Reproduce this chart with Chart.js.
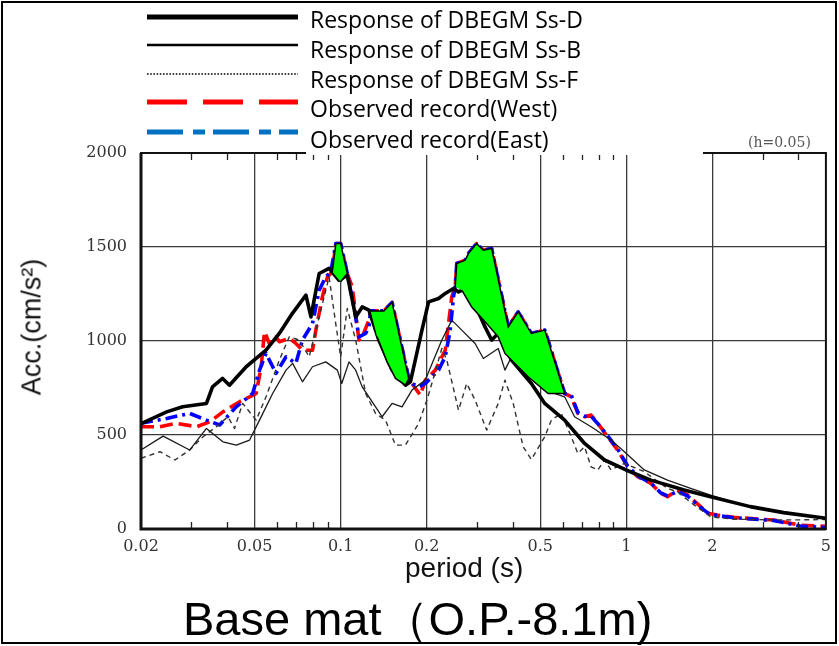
<!DOCTYPE html>
<html>
<head>
<meta charset="utf-8">
<script src="https://cdn.jsdelivr.net/npm/chart.js@4/dist/chart.umd.min.js"></script>
<style>
  html, body { margin: 0; padding: 0; background: #fff; }
  #wrap { position: relative; width: 839px; height: 646px; overflow: hidden; background: #fff; }
  #c { position: absolute; left: 0; top: 0; }
  .frame { position: absolute; left: 1px; top: 1px; width: 832px; height: 639px; border: 2px solid #000; pointer-events: none; }
  .mask { position: absolute; left: 306px; top: 4px; width: 397px; height: 151px; background: #fff; }
  .leg { position: absolute; left: 310px; font-family: 'Open Sans', sans-serif; font-size: 23px; line-height: 1; color: #000; white-space: nowrap; }
  .damp { position: absolute; left: 748px; top: 134px; font-family: 'DejaVu Serif', serif; font-size: 14px; color: #555; white-space: nowrap; }
  .ytitle { position: absolute; left: 32px; top: 327px; transform: translate(-50%, -50%) rotate(-90deg); font-family: 'Liberation Sans', Arial, sans-serif; font-size: 27px; color: #111; white-space: nowrap; }
  .xtitle { position: absolute; left: 405px; top: 554px; font-family: 'Liberation Sans', Arial, sans-serif; font-size: 28px; line-height: 1; color: #111; white-space: nowrap; }
  .title { position: absolute; left: 183px; top: 595px; font-family: 'Liberation Sans', Arial, sans-serif; font-size: 47px; line-height: 1; color: #000; white-space: nowrap; }
</style>
</head>
<body>
<div id="wrap">
  <canvas id="c" width="839" height="646"></canvas>
  <div class="mask"></div>
  <div class="leg" style="top:8px">Response of DBEGM Ss-D</div>
  <div class="leg" style="top:38px">Response of DBEGM Ss-B</div>
  <div class="leg" style="top:68px">Response of DBEGM Ss-F</div>
  <div class="leg" style="top:97px">Observed record(West)</div>
  <div class="leg" style="top:128px">Observed record(East)</div>
  <div class="damp">(h=0.05)</div>
  <div class="ytitle">Acc.(cm/s²)</div>
  <div class="xtitle">period (s)</div>
  <div class="title">Base mat（O.P.-8.1m)</div>
  <div class="frame"></div>
</div>
<script>
// Response spectra at the base mat, period (s) vs. acceleration (cm/s2), h = 0.05

// Design basis earthquake ground motion Ss-D
const ssD_period = [0.02,0.0246,0.028,0.0339,0.0356,0.0386,0.0408,0.0467,0.0506,0.0548,0.061,0.0677,0.0756,0.0787,0.0841,0.0911,0.0987,0.1055,0.1129,0.119,0.1256,0.136,0.1514,0.1686,0.1755,0.1926,0.2032,0.2202,0.2324,0.2484,0.2586,0.2729,0.2876,0.3203,0.3378,0.3563,0.3965,0.4654,0.5184,0.6085,0.7146,0.839,0.998,1.219,1.594,1.973,2.718,3.556,5];
const ssD_acc    = [560,623,650,668,756,801,765,863,907,951,1040,1146,1244,1128,1359,1386,1323,1350,1128,1181,1164,1005,845,765,783,1058,1208,1226,1253,1279,1261,1279,1235,1075,1005,1040,898,774,668,579,455,367,314,260,207,172,119,87,57];

// Ss-B
const ssB_period = [0.02,0.0239,0.0296,0.0339,0.0387,0.0431,0.048,0.052,0.0578,0.0644,0.0679,0.0735,0.0797,0.0887,0.0974,0.1009,0.107,0.1129,0.119,0.1325,0.1397,0.1514,0.164,0.1777,0.1979,0.2261,0.245,0.2655,0.2956,0.316,0.3563,0.376,0.3965,0.4534,0.5184,0.6085,0.659,0.753,0.884,0.985,1.156,1.394,1.681,1.973,2.718,3.556,5];
const ssB_acc    = [420,494,420,535,464,446,473,579,721,845,881,783,863,889,845,774,889,845,756,650,597,668,650,739,792,1005,1111,1058,987,907,960,845,916,828,739,703,597,544,473,411,314,260,216,180,115,84,55];

// Ss-F
const ssF_period = [0.02,0.0233,0.0263,0.0296,0.033,0.0367,0.0403,0.0425,0.0454,0.0506,0.0548,0.061,0.0661,0.0716,0.0776,0.0841,0.0911,0.0961,0.1,0.1055,0.1129,0.1223,0.1325,0.1436,0.1556,0.1686,0.1876,0.2005,0.2086,0.2261,0.2354,0.2586,0.2763,0.2956,0.3245,0.3563,0.376,0.402,0.4355,0.4654,0.5184,0.5466,0.592,0.6416,0.6768,0.7146,0.753,0.795,0.839,0.884,0.985,1.156,1.394,1.51,1.727,1.973,2.38,3.556,5];
const ssF_acc    = [376,411,367,420,491,544,597,535,668,579,703,898,1022,1005,916,1128,1341,1093,916,1173,1005,721,615,579,446,446,562,686,774,960,898,632,774,686,526,668,792,668,437,370,491,579,615,491,402,437,331,314,367,314,349,305,216,198,128,65,52,48,50];

// Observed record, west side
const west_period = [0.02,0.0233,0.0266,0.0313,0.0348,0.0387,0.0443,0.048,0.0506,0.0527,0.0541,0.0563,0.0594,0.061,0.0661,0.0697,0.0735,0.0797,0.0819,0.0863,0.0899,0.0935,0.0962,0.1,0.1055,0.1098,0.1159,0.119,0.1256,0.1273,0.1417,0.1514,0.1731,0.1777,0.1901,0.1979,0.2145,0.2324,0.2386,0.245,0.2518,0.255,0.2729,0.2801,0.2994,0.316,0.3378,0.3862,0.4184,0.4654,0.5184,0.6085,0.6416,0.6768,0.7146,0.753,0.795,0.861,0.933,1.011,1.096,1.219,1.321,1.394,1.51,1.637,1.821,1.948,2.082,2.38,2.946,3.282,4.062,5];
const west_acc    = [544,544,562,544,570,623,677,703,721,863,1049,987,1022,996,1014,987,951,951,1058,1235,1341,1368,1518,1518,1359,1288,1005,1022,1111,1160,1160,1205,800,774,712,792,845,951,1093,1235,1288,1412,1430,1465,1518,1483,1492,1075,1155,1040,1058,721,703,615,597,606,562,491,420,331,278,243,190,172,207,181,119,83,74,62,52,48,20,14];

// Observed record, east side
const east_period = [0.02,0.0246,0.0296,0.0339,0.0377,0.0431,0.0492,0.052,0.0548,0.0594,0.0644,0.0697,0.0735,0.0797,0.0841,0.0887,0.0924,0.0962,0.1,0.1055,0.1113,0.1159,0.1223,0.1256,0.1273,0.1417,0.1514,0.1731,0.1777,0.1876,0.1979,0.2202,0.2324,0.2419,0.2484,0.2518,0.255,0.2729,0.2801,0.2994,0.316,0.3378,0.3862,0.4184,0.4654,0.5184,0.6085,0.6416,0.6768,0.7146,0.753,0.795,0.861,0.933,1.011,1.096,1.219,1.321,1.394,1.51,1.637,1.821,1.948,2.082,2.38,2.946,3.282,4.062,5];
const east_acc    = [562,588,615,579,553,650,721,845,934,828,916,881,1005,1093,1270,1341,1368,1518,1518,1359,1181,1022,1040,1075,1160,1160,1205,800,774,756,774,845,916,1058,1235,1288,1412,1430,1465,1518,1483,1492,1075,1155,1040,1058,721,712,620,600,600,560,495,425,335,282,245,192,176,200,176,115,80,72,60,50,45,16,8];

// Bands where the observed spectra exceed Ss-D (closed outlines)
const exceed1_period = [0.0935,0.0962,0.1,0.1055,0.1];
const exceed1_acc    = [1368,1518,1518,1359,1315];
const exceed2_period = [0.1273,0.1417,0.1514,0.1731,0.1686,0.1556,0.1454,0.1342];
const exceed2_acc    = [1160,1160,1205,800,765,801,889,1022];
const exceed3_period = [0.2518,0.255,0.2729,0.2801,0.2994,0.316,0.3378,0.3862,0.4184,0.4654,0.5184,0.6085,0.5325,0.4534,0.376,0.3563,0.3203,0.2876,0.2655];
const exceed3_acc    = [1288,1412,1430,1465,1518,1483,1492,1075,1155,1040,1058,721,721,810,934,1022,1102,1181,1270];

// Axis ticks
const xTickValues = [0.02,0.05,0.1,0.2,0.5,1,2,5];
const xTickLabels = ['0.02','0.05','0.1','0.2','0.5','1','2','5'];
const xMinorValues = [0.03,0.04,0.06,0.07,0.08,0.09,0.3,0.4,0.6,0.7,0.8,0.9,3,4];
const yTickValues = [0,500,1000,1500,2000];
const yTickLabels = ['0','500','1000','1500','2000'];

const toPts = (p, a) => p.map((t, i) => ({ x: t, y: a[i] }));

const lineDs = (label, p, a, color, width, dash, order) => ({
  label, data: toPts(p, a), showLine: true, borderColor: color, borderWidth: width,
  borderDash: dash, pointRadius: 0, fill: false, tension: 0, order,
  borderJoinStyle: 'round'
});
const bandDs = (p, a) => ({
  label: 'exceed', data: toPts(p, a), showLine: true, borderColor: '#000', borderWidth: 1.5,
  backgroundColor: '#00ff00', pointRadius: 0, fill: 'shape', tension: 0, order: 0
});

// Legend swatches drawn in the top-left corner
const legendRows = [
  { y: 17,  color: '#000',    width: 5,   dash: [] },
  { y: 45,  color: '#000',    width: 2.5, dash: [] },
  { y: 74,  color: '#000',    width: 1.6, dash: [1.6, 1.6] },
  { y: 102, color: '#ff0000', width: 5,   dash: [40, 16] },
  { y: 132, color: '#0070c0', width: 5,   dash: [36, 10, 12, 8] }
];

const decor = {
  id: 'decor',
  afterDraw(chart) {
    const { ctx, chartArea: a, scales: { x } } = chart;
    ctx.save();
    // minor period ticks on bottom and top edges
    ctx.strokeStyle = '#222';
    ctx.lineWidth = 1.3;
    xMinorValues.forEach(v => {
      const px = Math.round(x.getPixelForValue(v)) + 0.5;
      ctx.beginPath();
      ctx.moveTo(px, a.bottom); ctx.lineTo(px, a.bottom - 7);
      ctx.moveTo(px, a.top); ctx.lineTo(px, a.top + 7);
      ctx.stroke();
    });
    // plot frame
    ctx.strokeStyle = '#111';
    ctx.lineWidth = 2;
    ctx.strokeRect(a.left, a.top, a.right - a.left, a.bottom - a.top);
    ctx.lineWidth = 3;
    ctx.beginPath();
    ctx.moveTo(a.left, a.top); ctx.lineTo(a.left, a.bottom); ctx.lineTo(a.right, a.bottom);
    ctx.stroke();
    // legend swatches
    legendRows.forEach(r => {
      ctx.strokeStyle = r.color;
      ctx.lineWidth = r.width;
      ctx.setLineDash(r.dash);
      ctx.lineCap = 'butt';
      ctx.beginPath();
      ctx.moveTo(147, r.y); ctx.lineTo(298, r.y);
      ctx.stroke();
    });
    ctx.restore();
  }
};

const gridColor = edges => ctx => {
  const v = ctx.tick ? ctx.tick.value : null;
  return edges.includes(v) ? 'rgba(0,0,0,0)' : '#3a3a3a';
};

new Chart(document.getElementById('c'), {
  type: 'scatter',
  data: {
    datasets: [
      bandDs(exceed1_period, exceed1_acc),
      bandDs(exceed2_period, exceed2_acc),
      bandDs(exceed3_period, exceed3_acc),
      lineDs('Response of DBEGM Ss-D', ssD_period, ssD_acc, '#000', 3.6, [], 1),
      lineDs('Response of DBEGM Ss-B', ssB_period, ssB_acc, '#1a1a1a', 1.3, [], 2),
      lineDs('Response of DBEGM Ss-F', ssF_period, ssF_acc, '#333', 1.4, [5, 4], 3),
      lineDs('Observed record(East)', east_period, east_acc, '#0000ff', 3.6, [12, 5, 3, 5], 4),
      lineDs('Observed record(West)', west_period, west_acc, '#ff0000', 3.6, [13, 6], 5)
    ]
  },
  options: {
    responsive: false,
    devicePixelRatio: 1,
    animation: false,
    layout: { padding: { left: 0, top: 153, right: 10, bottom: 57 } },
    plugins: { legend: { display: false }, tooltip: { enabled: false } },
    scales: {
      x: {
        type: 'logarithmic', min: 0.02, max: 5, position: 'bottom',
        afterFit(s) { s.height = 60; },
        afterBuildTicks(s) { s.ticks = xTickValues.map(v => ({ value: v })); },
        ticks: {
          autoSkip: false, maxRotation: 0, padding: 8, color: '#333',
          font: { family: 'DejaVu Serif', size: 16 },
          callback: (v, i) => xTickLabels[i]
        },
        grid: { color: gridColor([0.02, 5]), lineWidth: 1.3, drawTicks: false },
        border: { display: false },
        title: { display: false }
      },
      y: {
        type: 'linear', min: 0, max: 2000,
        afterFit(s) { s.width = 141; },
        afterBuildTicks(s) { s.ticks = yTickValues.map(v => ({ value: v })); },
        ticks: {
          padding: 14, color: '#333',
          font: { family: 'DejaVu Serif', size: 16 },
          callback: (v, i) => yTickLabels[i]
        },
        grid: { color: gridColor([0, 2000]), lineWidth: 1.3, drawTicks: false },
        border: { display: false }
      }
    }
  },
  plugins: [decor]
});
</script>
</body>
</html>
